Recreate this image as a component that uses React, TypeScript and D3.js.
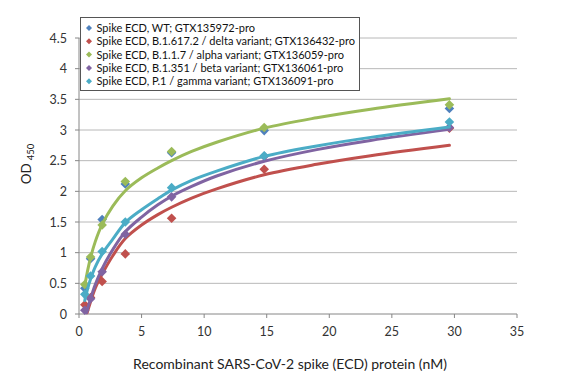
import React from "react";
import * as d3 from "d3";

const W = 582;
const H = 382;

const conc = [0.4625, 0.925, 1.85, 3.7, 7.4, 14.8, 29.6];

const seriesNames = [
  "Spike ECD, WT; GTX135972-pro",
  "Spike ECD, B.1.617.2 / delta variant; GTX136432-pro",
  "Spike ECD, B.1.1.7 / alpha variant; GTX136059-pro",
  "Spike ECD, B.1.351 / beta variant; GTX136061-pro",
  "Spike ECD, P.1 / gamma variant; GTX136091-pro",
];
const seriesColors = ["#4F81BD", "#C0504D", "#9BBB59", "#8064A2", "#4BACC6"];

const wtOD = [0.42, 0.9, 1.54, 2.12, 2.63, 2.99, 3.35];
const deltaOD = [0.15, 0.27, 0.53, 0.98, 1.56, 2.36, 3.03];
const alphaOD = [0.48, 0.93, 1.45, 2.16, 2.65, 3.04, 3.41];
const betaOD = [0.06, 0.25, 0.69, 1.3, 1.91, 2.57, 3.04];
const gammaOD = [0.32, 0.62, 1.02, 1.5, 2.06, 2.58, 3.13];
const seriesOD = [wtOD, deltaOD, alphaOD, betaOD, gammaOD];

// fitted curves
const fitXAlpha = [0.46, 0.7, 0.925, 1.3, 1.85, 2.7, 3.7, 5, 6.3, 7.4, 9, 11, 14.8, 19, 23.3, 29.6];
const fitYAlpha = [0.46, 0.72, 0.92, 1.18, 1.46, 1.76, 2.01, 2.22, 2.38, 2.5, 2.65, 2.8, 3.03, 3.2, 3.34, 3.51];
const fitXGamma = [0.46, 0.7, 0.925, 1.3, 1.85, 2.7, 3.7, 5, 6.3, 7.4, 9, 11, 14.8, 19, 23.3, 29.6];
const fitYGamma = [0.22, 0.42, 0.57, 0.77, 0.98, 1.22, 1.49, 1.7, 1.88, 2.02, 2.18, 2.33, 2.57, 2.74, 2.88, 3.05];
const fitXBeta = [0.6, 0.925, 1.3, 1.85, 2.7, 3.7, 5, 6.3, 7.4, 9, 11, 14.8, 19, 23.3, 29.6];
const fitYBeta = [0.02, 0.25, 0.48, 0.74, 1.05, 1.34, 1.58, 1.78, 1.92, 2.08, 2.25, 2.49, 2.68, 2.83, 3.01];
const fitXDelta = [0.65, 0.925, 1.3, 1.85, 2.7, 3.7, 5, 6.3, 7.4, 9, 11, 14.8, 19, 23.3, 29.6];
const fitYDelta = [0.02, 0.2, 0.42, 0.65, 0.95, 1.23, 1.45, 1.62, 1.74, 1.89, 2.04, 2.27, 2.44, 2.58, 2.75];

const fits: { x: number[]; y: number[]; s: number }[] = [
  { x: fitXDelta, y: fitYDelta, s: 1 },
  { x: fitXAlpha, y: fitYAlpha, s: 2 },
  { x: fitXBeta, y: fitYBeta, s: 3 },
  { x: fitXGamma, y: fitYGamma, s: 4 },
];

const xTicks = [0, 5, 10, 15, 20, 25, 30, 35];
const yTicks = [0, 0.5, 1, 1.5, 2, 2.5, 3, 3.5, 4, 4.5];

const FONT = "Lato, 'Open Sans', sans-serif";

export default function App() {
  const left = 79;
  const right = 517;
  const top = 38;
  const bottom = 314;
  const x = d3.scaleLinear().domain([0, 35]).range([left, right]);
  const y = d3.scaleLinear().domain([0, 4.5]).range([bottom, top]);
  const line = d3
    .line<[number, number]>()
    .x((d) => x(d[0]))
    .y((d) => y(d[1]))
    .curve(d3.curveCatmullRom.alpha(0.5));
  const diamond = (r: number) => `M0,${-r}L${r},0L0,${r}L${-r},0Z`;

  return (
    <svg
      width={W}
      height={H}
      style={{ position: "absolute", left: 0, top: 0, background: "#fff" }}
      fontFamily={FONT}
    >
      <rect x={0} y={0} width={W} height={H} fill="#fff" />
      {/* gridlines */}
      {yTicks.slice(1).map((t) => (
        <line key={t} x1={left} x2={right} y1={y(t)} y2={y(t)} stroke="#b8b8b8" strokeWidth={1} />
      ))}
      {/* axes */}
      <line x1={left} x2={left} y1={top} y2={bottom} stroke="#868686" />
      <line x1={left} x2={right} y1={bottom} y2={bottom} stroke="#868686" />
      {yTicks.map((t) => (
        <g key={t}>
          <line x1={left - 4} x2={left} y1={y(t)} y2={y(t)} stroke="#868686" />
          <text x={67} y={y(t) + 4.5} textAnchor="end" fontSize={12.5} fill="#333">
            {t}
          </text>
        </g>
      ))}
      {xTicks.map((t) => (
        <g key={t}>
          <line x1={x(t)} x2={x(t)} y1={bottom} y2={bottom + 4} stroke="#868686" />
          <text x={x(t)} y={336} textAnchor="middle" fontSize={12.5} fill="#333">
            {t}
          </text>
        </g>
      ))}
      {/* titles */}
      <text x={290} y={369} textAnchor="middle" fontSize={14} fill="#222">
        Recombinant SARS-CoV-2 spike (ECD) protein (nM)
      </text>
      <text transform="translate(31,164) rotate(-90)" textAnchor="middle" fontSize={13.5} fill="#222">
        OD
        <tspan fontSize={9.5} dx={3} dy={3}>
          450
        </tspan>
      </text>
      {/* series */}
      {seriesOD.map((vals, si) => {
        const fit = fits.find((f) => f.s === si);
        return (
          <g key={si}>
            {fit && (
              <path
                d={line(fit.x.map((v, i) => [v, fit.y[i]] as [number, number])) || ""}
                fill="none"
                stroke={seriesColors[si]}
                strokeWidth={3}
                strokeLinecap="round"
              />
            )}
            {vals.map((v, i) => (
              <path
                key={i}
                d={diamond(4.8)}
                transform={`translate(${x(conc[i])},${y(v)})`}
                fill={seriesColors[si]}
              />
            ))}
          </g>
        );
      })}
      {/* legend */}
      <rect x={80.5} y={17.5} width={279} height={73} fill="#fff" stroke="#555" strokeWidth={1} />
      {seriesNames.map((n, i) => (
        <g key={i}>
          <path d={diamond(3)} transform={`translate(89,${28 + i * 13.3})`} fill={seriesColors[i]} />
          <text x={96.5} y={28 + i * 13.3 + 4} fontSize={11} fill="#111">
            {n}
          </text>
        </g>
      ))}
    </svg>
  );
}
